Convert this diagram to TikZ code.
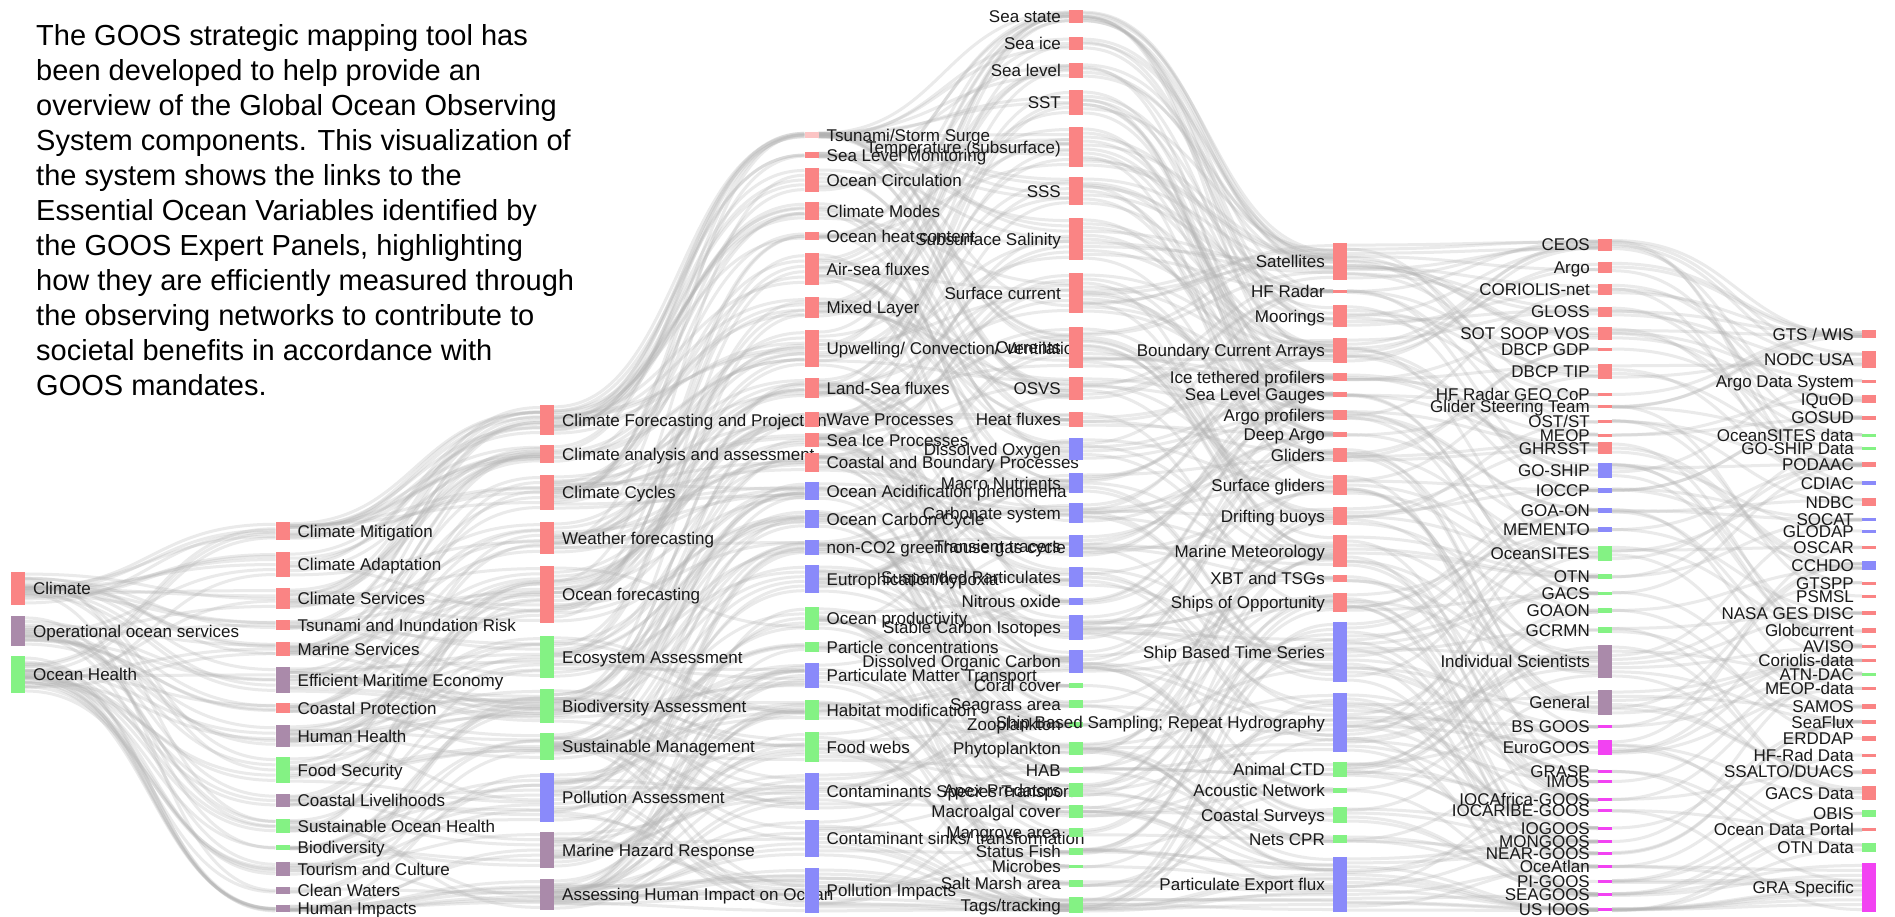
\documentclass[tikz,border=0pt]{standalone}
\usepackage{fontspec}
\setmainfont{Liberation Sans}
\usetikzlibrary{calc,backgrounds}

\definecolor{phys}{RGB}{250,132,132}
\definecolor{physlt}{RGB}{252,196,196}
\definecolor{bgc}{RGB}{138,138,250}
\definecolor{bio}{RGB}{132,242,132}
\definecolor{soc}{RGB}{170,138,170}
\definecolor{gra}{RGB}{242,66,242}

\tikzset{
  bar/.style={fill=#1, minimum width=14pt, inner sep=0pt, outer sep=0pt},
  lab/.style={font=\fontsize{17}{20}\selectfont, text=black!90, inner sep=0pt},
  link/.style={draw=black!30, draw opacity=0.27, line width=3pt}
}

% bars, names on the right
\newcommand\barsright[3]{%
  \foreach \yc/\hh/\col/\txt [count=\i] in {#3} {
    \node[bar=\col, minimum height=\hh pt] (#1-\i) at (#2,\yc) {};
    \node[lab, anchor=base west] (#1-\i-t) at ([xshift=8pt,yshift=-6pt]#1-\i.east) {\txt};
    \expandafter\xdef\csname h#1-\i\endcsname{\hh}
  }}
% bars, names on the left
\newcommand\barsleft[3]{%
  \foreach \yc/\hh/\col/\txt [count=\i] in {#3} {
    \node[bar=\col, minimum height=\hh pt] (#1-\i) at (#2,\yc) {};
    \node[lab, anchor=base east] (#1-\i-t) at ([xshift=-8pt,yshift=-6pt]#1-\i.west) {\txt};
    \expandafter\xdef\csname h#1-\i\endcsname{\hh}
  }}
% grey flows between two columns
\newcommand\linkcols[4]{%
  \pgfmathtruncatemacro\wr{max(2,0.3*#4)}
  \pgfmathtruncatemacro\wl{max(2,0.3*#3)}
  \foreach \i in {1,...,#3} {
    \edef\hh{\csname h#1-\i\endcsname}
    \pgfmathtruncatemacro\nk{max(1,round(\hh/4))}
    \foreach \m in {1,...,\nk} {
      \pgfmathrandominteger{\rr}{-\wr}{\wr}
      \pgfmathtruncatemacro\j{min(#4,max(1,round((\i-1)/(#3-1)*(#4-1))+1+(\rr)))}
      \pgfmathsetmacro\pa{(\m-0.5)/\nk}
      \pgfmathsetmacro\pb{0.15+0.7*rnd}
      \draw[link] ($(#1-\i.north east)!\pa!(#1-\i.south east)$) .. controls +(125,0) and +(-125,0) .. ($(#2-\j.north west)!\pb!(#2-\j.south west)$);
    }
  }
  \foreach \j in {1,...,#4} {
    \edef\hh{\csname h#2-\j\endcsname}
    \pgfmathtruncatemacro\nk{max(1,round(\hh/5))}
    \foreach \m in {1,...,\nk} {
      \pgfmathrandominteger{\rr}{-\wl}{\wl}
      \pgfmathtruncatemacro\i{min(#3,max(1,round((\j-1)/(#4-1)*(#3-1))+1+(\rr)))}
      \pgfmathsetmacro\pa{0.15+0.7*rnd}
      \pgfmathsetmacro\pb{(\m-0.5)/\nk}
      \draw[link] ($(#1-\i.north east)!\pa!(#1-\i.south east)$) .. controls +(125,0) and +(-125,0) .. ($(#2-\j.north west)!\pb!(#2-\j.south west)$);
    }
  }}

\begin{document}
\begin{tikzpicture}[x=1pt,y=-1pt]
\useasboundingbox (0,0) rectangle (1895,916);
\pgfmathsetseed{1234}

\barsright{c0}{18}{
  588.5/33/phys/Climate,
  631/30/soc/Operational ocean services,
  674.5/37/bio/Ocean Health}

\barsright{c1}{282.5}{
  531/18/phys/Climate Mitigation,
  564.5/25/phys/Climate Adaptation,
  598.5/21/phys/Climate Services,
  625/10/phys/Tsunami and Inundation Risk,
  649/14/phys/Marine Services,
  680/26/soc/Efficient Maritime Economy,
  708/10/phys/Coastal Protection,
  736/22/soc/Human Health,
  770/26/bio/Food Security,
  800.5/13/soc/Coastal Livelihoods,
  826/14/bio/Sustainable Ocean Health,
  847.5/5/bio/Biodiversity,
  869/14/soc/Tourism and Culture,
  890.5/7/soc/Clean Waters,
  908.5/7/soc/Human Impacts}

\barsright{c2}{547}{
  420/30/phys/Climate Forecasting and Projection,
  454/18/phys/Climate analysis and assessment,
  492.5/35/phys/Climate Cycles,
  538/32/phys/Weather forecasting,
  594.5/57/phys/Ocean forecasting,
  657/42/bio/Ecosystem Assessment,
  706/34/bio/Biodiversity Assessment,
  746.5/27/bio/Sustainable Management,
  797.5/49/bgc/Pollution Assessment,
  850/36/soc/Marine Hazard Response,
  894.5/31/soc/Assessing Human Impact on Ocean}

\barsright{c3}{811.5}{
  135/6/physlt/{Tsunami/Storm Surge},
  155/6/phys/Sea Level Monitoring,
  180/24/phys/Ocean Circulation,
  211/18/phys/Climate Modes,
  236/8/phys/Ocean heat content,
  269/32/phys/Air-sea fluxes,
  307.5/21/phys/Mixed Layer,
  348.5/37/phys/{Upwelling/ Convection/ Ventilation},
  388/20/phys/Land-Sea fluxes,
  419.5/15/phys/Wave Processes,
  440/14/phys/Sea Ice Processes,
  462.5/19/phys/Coastal and Boundary Processes,
  491/18/bgc/Ocean Acidification phenomena,
  519/18/bgc/Ocean Carbon Cycle,
  547.5/15/bgc/non-CO2 greenhouse gas cycle,
  579/28/bgc/{Eutrophication/hypoxia},
  618.5/23/bio/Ocean productivity,
  647/10/bio/Particle concentrations,
  675.5/25/bgc/Particulate Matter Transport,
  710/20/bio/Habitat modification,
  747/30/bio/Food webs,
  791.5/37/bgc/Contaminants Species Transport,
  838.5/37/bgc/{Contaminant sinks/ transformation},
  890.5/45/bgc/Pollution Impacts}

\barsleft{c4}{1076}{
  16.5/13/phys/Sea state,
  43.5/13/phys/Sea ice,
  70.5/15/phys/Sea level,
  102.5/25/phys/SST,
  147/40/phys/{Temperature (subsurface)},
  191/28/phys/SSS,
  239/42/phys/Subsurface Salinity,
  293/40/phys/Surface current,
  347.5/41/phys/Currents,
  388.5/23/phys/OSVS,
  419.5/15/phys/Heat fluxes,
  449/22/bgc/Dissolved Oxygen,
  483/20/bgc/Macro Nutrients,
  513/20/bgc/Carbonate system,
  546/22/bgc/Transient tracers,
  577/20/bgc/Suspended Particulates,
  601.5/7/bgc/Nitrous oxide,
  627.5/25/bgc/Stable Carbon Isotopes,
  661.5/23/bgc/Dissolved Organic Carbon,
  685.5/5/bio/Coral cover,
  704/8/bio/Seagrass area,
  724.5/5/bio/Zooplankton,
  748.5/13/bio/Phytoplankton,
  770/6/bio/HAB,
  790/14/bio/Apex Predators,
  811.5/13/bio/Macroalgal cover,
  832.5/9/bio/Mangrove area,
  851.5/7/bio/Status Fish,
  866.5/3/bio/Microbes,
  883.5/7/bio/Salt Marsh area,
  905/16/bio/{Tags/tracking}}

\barsleft{c5}{1340}{
  261.5/37/phys/Satellites,
  291.5/3/phys/HF Radar,
  316/22/phys/Moorings,
  350.5/25/phys/Boundary Current Arrays,
  377/8/phys/Ice tethered profilers,
  394.5/5/phys/Sea Level Gauges,
  415/10/phys/Argo profilers,
  434.5/5/phys/Deep Argo,
  455/14/phys/Gliders,
  485/20/phys/Surface gliders,
  516/18/phys/Drifting buoys,
  551/32/phys/Marine Meteorology,
  578.5/7/phys/XBT and TSGs,
  602.5/19/phys/Ships of Opportunity,
  652/60/bgc/Ship Based Time Series,
  722.5/59/bgc/Ship Based Sampling; Repeat Hydrography,
  769.5/15/bio/Animal CTD,
  790.5/5/bio/Acoustic Network,
  815/16/bio/Coastal Surveys,
  839/8/bio/Nets CPR,
  884.5/55/bgc/Particulate Export flux}

\barsleft{c6}{1605}{
  244.5/12/phys/CEOS,
  267/11/phys/Argo,
  289/11/phys/CORIOLIS-net,
  311.5/10/phys/GLOSS,
  333.5/13/phys/SOT SOOP VOS,
  349/3/phys/DBCP GDP,
  371.5/15/phys/DBCP TIP,
  394.5/3/phys/HF Radar GEO CoP,
  406.5/3/phys/Glider Steering Team,
  421.5/3/phys/{OST/ST},
  435/3/phys/MEOP,
  448/12/phys/GHRSST,
  470/15/bgc/GO-SHIP,
  490.5/5/bgc/IOCCP,
  510.5/5/bgc/GOA-ON,
  529.5/5/bgc/MEMENTO,
  553/15/bio/OceanSITES,
  576.5/5/bio/OTN,
  593/3/bio/GACS,
  610.5/5/bio/GOAON,
  630/6/bio/GCRMN,
  661.5/33/soc/Individual Scientists,
  702.5/25/soc/General,
  726.5/3/gra/BS GOOS,
  747.5/15/gra/EuroGOOS,
  771.5/3/gra/GRASP,
  781.5/3/gra/IMOS,
  799.5/3/gra/IOCAfrica-GOOS,
  810.5/3/gra/IOCARIBE-GOOS,
  828/3/gra/IOGOOS,
  841.5/3/gra/MONGOOS,
  853.5/3/gra/NEAR-GOOS,
  866.5/3/gra/OceAtlan,
  881.5/3/gra/PI-GOOS,
  894.5/3/gra/SEAGOOS,
  909.5/3/gra/US IOOS}

\barsleft{c7}{1869}{
  334/8/phys/{GTS / WIS},
  359.5/17/phys/NODC USA,
  381/3/phys/Argo Data System,
  399/8/phys/IQuOD,
  417.5/4/phys/GOSUD,
  435/3/bio/OceanSITES data,
  448/3/bio/GO-SHIP Data,
  464.5/5/phys/PODAAC,
  483/4/bgc/CDIAC,
  502/8/phys/NDBC,
  519.5/3/bgc/SOCAT,
  531/3/bgc/GLODAP,
  547/3/phys/OSCAR,
  565.5/9/bgc/CCHDO,
  583/3/phys/GTSPP,
  596/3/phys/PSMSL,
  613/4/phys/NASA GES DISC,
  630.5/5/phys/Globcurrent,
  646/3/phys/AVISO,
  660.5/3/phys/Coriolis-data,
  674/3/bio/ATN-DAC,
  688.5/3/phys/MEOP-data,
  706.5/5/phys/SAMOS,
  722/4/phys/SeaFlux,
  738.5/5/phys/ERDDAP,
  755/3/phys/HF-Rad Data,
  771.5/5/phys/{SSALTO/DUACS},
  793/14/phys/GACS Data,
  813.5/7/bio/OBIS,
  829.5/3/phys/Ocean Data Portal,
  847.5/9/bio/OTN Data,
  887.5/49/gra/GRA Specific}

\begin{scope}[on background layer]
  \fill[white] (0,0) rectangle (1895,916);
  \linkcols{c0}{c1}{3}{15}
  \linkcols{c1}{c2}{15}{11}
  \linkcols{c2}{c3}{11}{24}
  \linkcols{c3}{c4}{24}{31}
  \linkcols{c4}{c5}{31}{21}
  \linkcols{c5}{c6}{21}{36}
  \linkcols{c6}{c7}{36}{32}
\end{scope}

\node[anchor=north west, inner sep=0pt, align=left, font=\fontsize{29}{35}\selectfont] (intro) at (36,24)
  {The GOOS strategic mapping tool has\\
   been developed to help provide an\\
   overview of the Global Ocean Observing\\
   System components. This visualization of\\
   the system shows the links to the\\
   Essential Ocean Variables identified by\\
   the GOOS Expert Panels, highlighting\\
   how they are efficiently measured through\\
   the observing networks to contribute to\\
   societal benefits in accordance with\\
   GOOS mandates.};
\end{tikzpicture}
\end{document}
